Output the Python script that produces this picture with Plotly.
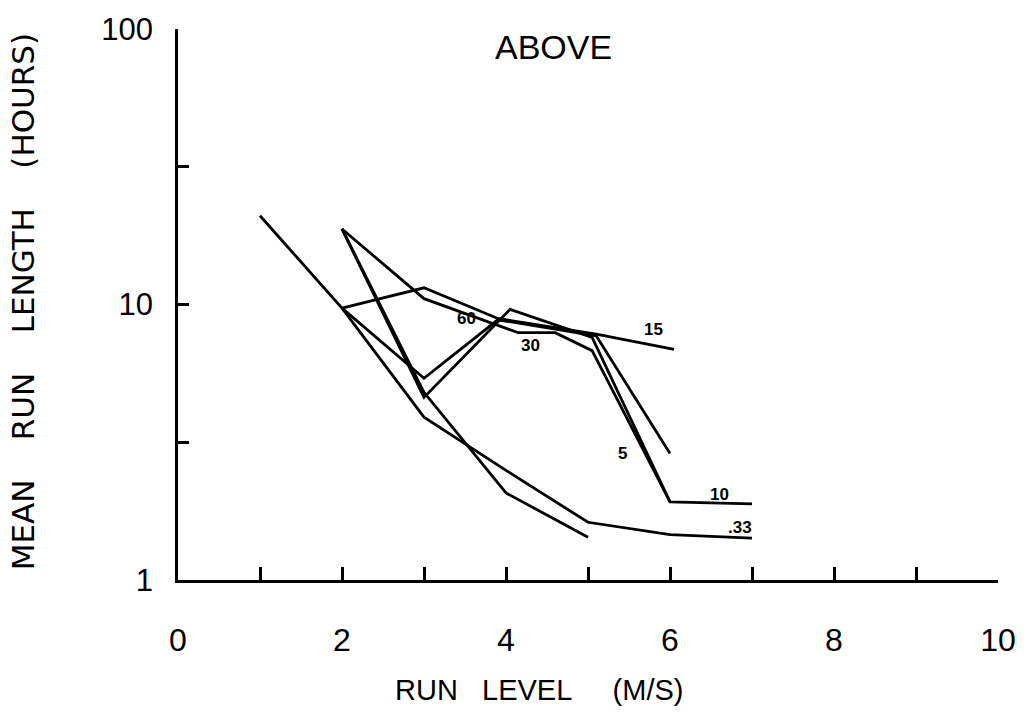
import math
import plotly.graph_objects as go

# Mean run length (hours) vs. run level (m/s), one curve per averaging interval
x_033 = [1, 2, 3, 4, 5, 6, 7]
y_033 = [21.0, 9.7, 3.9, 2.5, 1.62, 1.46, 1.42]

x_a = [2, 3, 4, 5]
y_a = [18.8, 4.8, 2.07, 1.43]

x_15 = [2, 3, 3.9, 5.1, 6.05]
y_15 = [9.7, 11.5, 8.9, 7.8, 6.87]

x_10 = [2, 3, 4.15, 4.6, 5.05, 6, 7]
y_10 = [18.8, 10.5, 7.9, 7.9, 6.8, 1.92, 1.89]

x_b = [2, 3, 3.9, 5.1, 6]
y_b = [9.7, 5.4, 8.8, 7.7, 2.88]

x_5 = [2, 3, 4.05, 5.05, 6]
y_5 = [18.8, 4.6, 9.6, 7.6, 1.92]

curves = [(x_033, y_033), (x_a, y_a), (x_15, y_15), (x_10, y_10), (x_b, y_b), (x_5, y_5)]

# Curve labels: text, x, y (hours)
label_text = ["60", "30", "15", "5", "10", ".33"]
label_x = [3.52, 4.3, 5.8, 5.42, 6.6, 6.85]
label_y = [8.9, 7.1, 8.1, 2.88, 2.05, 1.55]

x_ticks = list(range(0, 11))
x_ticktext = ["0", "", "2", "", "4", "", "6", "", "8", "", "10"]
y_ticks = [1, 3.1623, 10, 31.623, 100]
y_ticktext = ["1", "", "10", "", "100"]

FONT = "Liberation Sans"
INK = "#000000"

fig = go.Figure()
for cx, cy in curves:
    fig.add_trace(go.Scatter(
        x=cx, y=cy, mode="lines",
        line=dict(color=INK, width=2.8),
        showlegend=False, hoverinfo="skip",
    ))

# annotations on a log axis take log10 positions
for t, lx, ly in zip(label_text, label_x, label_y):
    fig.add_annotation(
        x=lx, y=math.log10(ly), yref="y", xref="x", text=f"<b>{t}</b>",
        showarrow=False, xanchor="center", yanchor="middle",
        font=dict(family=FONT, size=17, color=INK),
    )

nb = "\u00a0"
common = dict(xref="paper", yref="paper", showarrow=False,
              xanchor="center", yanchor="middle")
fig.add_annotation(
    x=0.4575, y=0.967, text="ABOVE",
    font=dict(family=FONT, size=34, color=INK), **common,
)
fig.add_annotation(
    x=0.44, y=-0.199, text=f"RUN{nb*3}LEVEL{nb*5}(M/S)",
    font=dict(family=FONT, size=29, color=INK), **common,
)
fig.add_annotation(
    x=-0.189, y=0.504, textangle=-90,
    text=f"MEAN{nb*4}RUN{nb*4}LENGTH{nb*4}(HOURS)",
    font=dict(family="DejaVu Sans", size=31, color=INK), **common,
)

fig.update_layout(
    width=1028, height=721,
    margin=dict(l=178, r=26, t=28, b=141),
    paper_bgcolor="white", plot_bgcolor="white",
    xaxis=dict(
        range=[0, 10], tickvals=x_ticks, ticktext=x_ticktext,
        ticks="inside", ticklen=13, tickwidth=2.5, tickcolor=INK,
        showline=True, linewidth=2.5, linecolor=INK,
        showgrid=False, zeroline=False, ticklabelstandoff=30,
        tickfont=dict(family=FONT, size=32, color=INK),
    ),
    yaxis=dict(
        type="log", range=[0, 2], tickvals=y_ticks, ticktext=y_ticktext,
        ticks="inside", ticklen=11, tickwidth=2.5, tickcolor=INK,
        showline=True, linewidth=2.5, linecolor=INK,
        showgrid=False, zeroline=False, ticklabelstandoff=16,
        tickfont=dict(family=FONT, size=31, color=INK),
    ),
)

fig.write_html("out.html")
